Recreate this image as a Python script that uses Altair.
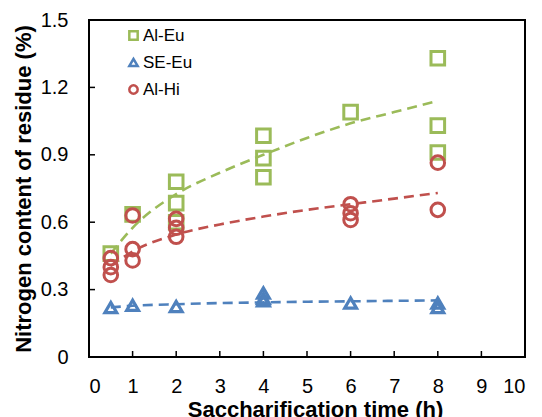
import altair as alt
import pandas as pd

# ---- data ----
series_names = ["Al-Eu", "SE-Eu", "Al-Hi"]
series_colors = ["#9BBB59", "#4F81BD", "#C0504D"]
series_shapes = ["square", "triangle-up", "circle"]

al_eu_x = [0.5, 1, 2, 2, 2, 4, 4, 4, 6, 8, 8, 8]
al_eu_y = [0.46, 0.635, 0.78, 0.685, 0.60, 0.985, 0.885, 0.80, 1.09, 1.33, 1.03, 0.91]

se_eu_x = [0.5, 1, 2, 4, 4, 4, 6, 8, 8]
se_eu_y = [0.22, 0.23, 0.225, 0.285, 0.26, 0.25, 0.24, 0.24, 0.22]

al_hi_x = [0.5, 0.5, 0.5, 1, 1, 1, 2, 2, 2, 6, 6, 6, 8, 8]
al_hi_y = [0.44, 0.40, 0.365, 0.63, 0.48, 0.43, 0.615, 0.575, 0.535, 0.68, 0.64, 0.61, 0.865, 0.655]

# dashed trend curves
trend_x = [0.5, 1, 2, 3, 4, 5, 6, 7, 8]
trend_al_eu = [0.46, 0.575, 0.725, 0.82, 0.90, 0.975, 1.04, 1.09, 1.14]
trend_se_eu = [0.221, 0.228, 0.235, 0.240, 0.243, 0.246, 0.248, 0.250, 0.252]
trend_al_hi = [0.405, 0.47, 0.545, 0.59, 0.625, 0.655, 0.68, 0.705, 0.73]

x_ticks = [0, 1, 2, 3, 4, 5, 6, 7, 8, 9, 10]
y_ticks = [0, 0.3, 0.6, 0.9, 1.2, 1.5]
x_inner_ticks = [1, 2, 3, 4, 5, 6, 7, 8, 9]
y_inner_ticks = [0.3, 0.6, 0.9, 1.2]

# ---- tables ----
pts_main = pd.concat([
    pd.DataFrame({"x": al_eu_x, "y": al_eu_y, "s": "Al-Eu"}),
    pd.DataFrame({"x": al_hi_x, "y": al_hi_y, "s": "Al-Hi"}),
])
pts_tri = pd.DataFrame({"x": se_eu_x, "y": se_eu_y, "s": "SE-Eu"})
trend = pd.concat([
    pd.DataFrame({"x": trend_x, "y": trend_al_eu, "s": "Al-Eu"}),
    pd.DataFrame({"x": trend_x, "y": trend_se_eu, "s": "SE-Eu"}),
    pd.DataFrame({"x": trend_x, "y": trend_al_hi, "s": "Al-Hi"}),
])
xt = pd.DataFrame({"x": x_inner_ticks})
yt = pd.DataFrame({"y": y_inner_ticks})

FONT = "Liberation Sans"
xscale = alt.Scale(domain=[0, 10], nice=False, zero=False)
yscale = alt.Scale(domain=[0, 1.5], nice=False, zero=False)
cscale = alt.Scale(domain=series_names, range=series_colors)
sscale = alt.Scale(domain=series_names, range=series_shapes)

x_axis = alt.Axis(values=x_ticks, format="d", grid=False, domain=False, ticks=False, tickSize=0,
                  labelOverlap=False,
                  labelFont=FONT, labelFontSize=20, labelColor="#000", labelPadding=19,
                  title="Saccharification time (h)", titleFont=FONT, titleFontSize=22,
                  titleFontWeight="bold", titleColor="#000", titlePadding=3, titleX=226)
y_axis = alt.Axis(values=y_ticks, format="~g", grid=False, domain=False, ticks=False, tickSize=0,
                  labelOverlap=False,
                  labelFont=FONT, labelFontSize=20, labelColor="#000", labelPadding=21,
                  title="Nitrogen content of residue (%)", titleFont=FONT, titleFontSize=22,
                  titleFontWeight="bold", titleColor="#000", titlePadding=5)

legend = alt.Legend(title=None, orient="none", legendX=36, legendY=7,
                    labelFont=FONT, labelFontSize=17, labelColor="#000",
                    symbolSize=70, symbolStrokeWidth=2.5, labelOffset=1,
                    rowPadding=8, padding=0)

X = alt.X("x:Q", scale=xscale, axis=x_axis)
Y = alt.Y("y:Q", scale=yscale, axis=y_axis)
C = alt.Color("s:N", scale=cscale, legend=legend)
S = alt.Shape("s:N", scale=sscale, legend=legend)

xtick_layer = alt.Chart(xt).mark_rule(color="#000", strokeWidth=1.5).encode(
    x=X, y=alt.value(337), y2=alt.value(331),
)
ytick_layer = alt.Chart(yt).mark_rule(color="#000", strokeWidth=1.5).encode(
    y=Y, x=alt.value(0), x2=alt.value(6),
)

lines = alt.Chart(trend).mark_line(strokeWidth=2.6, strokeDash=[10, 6], interpolate="monotone").encode(
    x=X, y=Y, color=C, detail="s:N",
)

points_main = alt.Chart(pts_main).mark_point(filled=False, strokeWidth=3, opacity=1, size=185).encode(
    x=X, y=Y, color=C, shape=S,
)
points_tri = alt.Chart(pts_tri).mark_point(filled=False, strokeWidth=3.2, opacity=1, size=140).encode(
    x=X, y=Y, color=C, shape=S,
)

chart = alt.layer(xtick_layer, ytick_layer, lines, points_main, points_tri).properties(
    width=436, height=337,
    autosize=alt.AutoSizeParams(type="none"),
    padding={"left": 81, "top": 12, "right": 9, "bottom": 60},
).configure_view(stroke="#000", strokeWidth=2)

chart.save("out.html", embed_options={"renderer": "svg", "actions": False})
